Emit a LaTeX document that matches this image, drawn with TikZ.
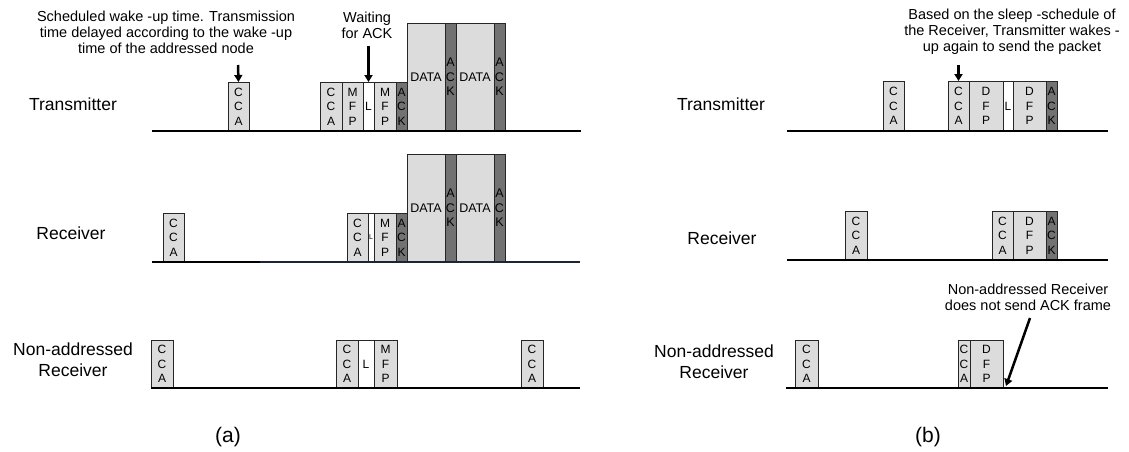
\documentclass[tikz,border=0pt]{standalone}
\usepackage{fontspec}
\setmainfont{Liberation Sans}
\usetikzlibrary{arrows.meta,positioning}
\definecolor{frmgray}{HTML}{DCDCDC}
\definecolor{ackgray}{HTML}{727272}
\definecolor{navyline}{HTML}{1C2438}

\begin{document}
\begin{tikzpicture}[x=1pt, y=-1pt, >={Triangle[length=7pt, width=8pt]},
    frm/.style={draw=black!85, fill=frmgray, line width=0.8pt, outer sep=0pt, inner sep=0pt,
      align=center, minimum height=49pt, font=\fontsize{12}{14.5}\selectfont},
    lstn/.style={frm, fill=white},
    ackf/.style={frm, fill=ackgray, minimum width=11pt},
    tall/.style={minimum height=108pt, font=\fontsize{12.5}{14.5}\selectfont},
    nxt/.style={above right=0pt and 0pt of #1.south east},
    tline/.style={line width=1.3pt},
    lbl/.style={font=\fontsize{17.5}{21}\selectfont, align=center},
    note/.style={font=\fontsize{14.5}{16}\selectfont, align=center},
    arr/.style={->, line width=2.5pt}]
  \useasboundingbox (0,0) rectangle (1129,452);

  % (a) transmitter
  \node[lbl] (txa) at (73,104) {Transmitter};
  \node[frm, minimum width=21pt, anchor=south west] (ta1) at (228,131) {C\\C\\A};
  \node[frm, minimum width=22pt, anchor=south west] (ta2) at (320,131) {C\\C\\A};
  \node[frm, minimum width=21pt, nxt=ta2] (ta3) {M\\F\\P};
  \node[lstn, minimum width=11pt, nxt=ta3] (ta4) {L};
  \node[frm, minimum width=22pt, nxt=ta4] (ta5) {M\\F\\P};
  \node[ackf, nxt=ta5] (ta6) {A\\C\\K};
  \node[frm, tall, minimum width=38pt, nxt=ta6] (ta7) {DATA};
  \node[ackf, tall, nxt=ta7] (ta8) {A\\C\\K};
  \node[frm, tall, minimum width=38pt, nxt=ta8] (ta9) {DATA};
  \node[ackf, tall, nxt=ta9] (ta10) {A\\C\\K};
  \coordinate (tal) at (152,131); \coordinate (tar) at (581,131);
  \draw[tline] (tal) -- (tar);
  \node[note] (nwake) at (166,32) {Scheduled wake -up time. Transmission\\time delayed according to the wake -up\\time of the addressed node};
  \coordinate (awake) at (238,65);
  \draw[arr] (awake) -- (ta1.north);
  \node[note] (nwait) at (367,25) {Waiting\\for ACK};
  \coordinate (await) at (368.5,46);
  \draw[arr] (await) -- (ta4.north);

  % (a) receiver
  \node[lbl] (rxa) at (71,233) {Receiver};
  \node[frm, minimum width=21pt, anchor=south west] (ra1) at (163,262) {C\\C\\A};
  \node[frm, minimum width=21pt, anchor=south west] (ra2) at (347,262) {C\\C\\A};
  \node[lstn, minimum width=6pt, nxt=ra2, font=\fontsize{7}{8}\selectfont] (ra3) {L};
  \node[frm, minimum width=22pt, nxt=ra3] (ra4) {M\\F\\P};
  \node[ackf, nxt=ra4] (ra5) {A\\C\\K};
  \node[frm, tall, minimum width=38pt, nxt=ra5] (ra6) {DATA};
  \node[ackf, tall, nxt=ra6] (ra7) {A\\C\\K};
  \node[frm, tall, minimum width=38pt, nxt=ra7] (ra8) {DATA};
  \node[ackf, tall, nxt=ra8] (ra9) {A\\C\\K};
  \coordinate (ral) at (152,262); \coordinate (ram) at (260,262); \coordinate (rar) at (580,262);
  \draw[tline] (ral) -- (ram);
  \draw[tline, navyline] (ram) -- (rar);

  % (a) non-addressed receiver
  \node[lbl] (nxa) at (73,360) {Non-addressed\\Receiver};
  \node[frm, minimum width=22pt, minimum height=48pt, anchor=south west] (na1) at (151,388) {C\\C\\A};
  \node[frm, minimum width=22pt, minimum height=48pt, anchor=south west] (na2) at (336,388) {C\\C\\A};
  \node[lstn, minimum width=16pt, minimum height=48pt, nxt=na2] (na3) {L};
  \node[frm, minimum width=23pt, minimum height=48pt, nxt=na3] (na4) {M\\F\\P};
  \node[frm, minimum width=22pt, minimum height=48pt, anchor=south west] (na5) at (521,388) {C\\C\\A};
  \coordinate (nal) at (151,388); \coordinate (nar) at (580,388);
  \draw[tline] (nal) -- (nar);
  \node[font=\fontsize{21}{24}\selectfont] (capa) at (228,437) {(a)};

  % (b) transmitter
  \node[lbl] (txb) at (721,104) {Transmitter};
  \node[frm, minimum width=21pt, minimum height=50pt, anchor=south west] (tb1) at (883,131) {C\\C\\A};
  \node[frm, minimum width=21pt, minimum height=50pt, anchor=south west] (tb2) at (948,131) {C\\C\\A};
  \node[frm, minimum width=34pt, minimum height=50pt, nxt=tb2] (tb3) {D\\F\\P};
  \node[lstn, minimum width=10pt, minimum height=50pt, nxt=tb3] (tb4) {L};
  \node[frm, minimum width=33pt, minimum height=50pt, nxt=tb4] (tb5) {D\\F\\P};
  \node[ackf, minimum height=50pt, nxt=tb5] (tb6) {A\\C\\K};
  \coordinate (tbl) at (787,131); \coordinate (tbr) at (1108,131);
  \draw[tline] (tbl) -- (tbr);
  \node[note] (nsched) at (1012,32) {Based on the sleep -schedule of\\the Receiver, Transmitter wakes -\\up again to send the packet};
  \coordinate (asched) at (958.5,65);
  \draw[arr] (asched) -- (tb2.north);

  % (b) receiver
  \node[lbl] (rxb) at (722,238) {Receiver};
  \node[frm, minimum width=22pt, anchor=south west] (rb1) at (845,260) {C\\C\\A};
  \node[frm, minimum width=21pt, anchor=south west] (rb2) at (992,260) {C\\C\\A};
  \node[frm, minimum width=33pt, nxt=rb2] (rb3) {D\\F\\P};
  \node[ackf, nxt=rb3] (rb4) {A\\C\\K};
  \coordinate (rbl) at (787,260); \coordinate (rbr) at (1108,260);
  \draw[tline] (rbl) -- (rbr);

  % (b) non-addressed receiver
  \node[lbl] (nxb) at (714,362) {Non-addressed\\Receiver};
  \node[frm, minimum width=23pt, minimum height=48pt, anchor=south west] (nb1) at (795,388) {C\\C\\A};
  \node[frm, minimum width=12pt, minimum height=48pt, anchor=south west] (nb2) at (958,388) {C\\C\\A};
  \node[frm, minimum width=33pt, minimum height=48pt, nxt=nb2] (nb3) {D\\F\\P};
  \coordinate (nbl) at (786,388); \coordinate (nbr) at (1108,388);
  \draw[tline] (nbl) -- (nbr);
  \node[note] (nnoack) at (1028,297) {Non-addressed Receiver\\does not send ACK frame};
  \coordinate (anoack) at (1030,318); \coordinate (enoack) at (1006,386);
  \draw[arr] (anoack) -- (enoack);
  \node[font=\fontsize{21}{24}\selectfont] (capb) at (928,437) {(b)};
\end{tikzpicture}
\end{document}
